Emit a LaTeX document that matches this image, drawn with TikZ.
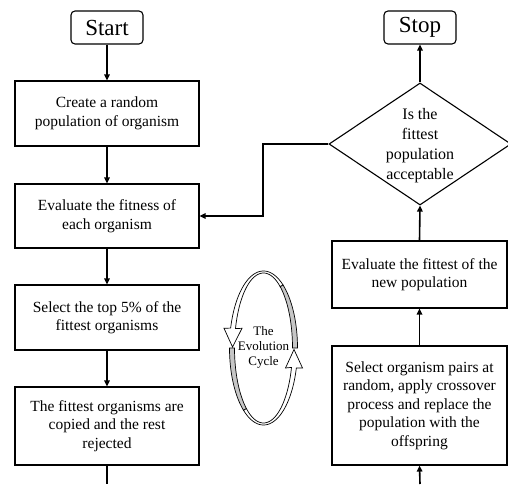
\documentclass[tikz,border=0pt]{standalone}
\usepackage{fontspec}
\setmainfont{Liberation Serif}
\usetikzlibrary{arrows.meta,shapes.geometric}
\begin{document}
\begin{tikzpicture}[x=1pt,y=-1pt,
  proc/.style={draw,line width=1.1pt,align=center,inner sep=0pt,
    font=\fontsize{15.5}{18.5}\selectfont},
  term/.style={draw,line width=1.1pt,rounded corners=4pt,align=center,inner sep=0pt,
    minimum width=72pt,minimum height=33pt,font=\fontsize{23}{26}\selectfont},
  arr/.style={line width=1.6pt,-{Triangle[length=6pt,width=5.5pt]}},
  ln/.style={line width=1.6pt},
  band/.style={line width=0.7pt}]
\useasboundingbox (0,0) rectangle (508,484);
% left column
\node[term] (start) at (107,27.5) {Start};
\node[proc,minimum width=184pt,minimum height=65pt] (create) at (107,113.5) {Create a random\\population of organism};
\node[proc,minimum width=184pt,minimum height=64pt] (eval) at (107,216) {Evaluate the fitness of\\each organism};
\node[proc,minimum width=184pt,minimum height=65pt] (sel) at (107,317.5) {Select the top 5\% of the\\fittest organisms};
\node[proc,minimum width=184pt,minimum height=78pt] (fit) at (107,426) {The fittest organisms are\\copied and the rest\\rejected};
\coordinate (lbot) at (107,484);
% right column
\node[term] (stop) at (420,27.5) {Stop};
\node[diamond,draw,line width=1.1pt,minimum width=182pt,minimum height=122pt,inner sep=0pt] (dec) at (420,144) {};
\node[align=center,inner sep=0pt,font=\fontsize{16}{20}\selectfont] (dectext) at (420,146) {Is the\\fittest\\population\\acceptable};
\node[proc,minimum width=175pt,minimum height=67pt] (evfit) at (419.5,274.5) {Evaluate the fittest of the\\new population};
\node[proc,minimum width=175pt,minimum height=119pt] (pairs) at (419.5,405.5) {Select organism pairs at\\random, apply crossover\\process and replace the\\population with the\\offspring};
\coordinate (rbot) at (420,484);
\coordinate (bend) at (263,144);
% connectors
\draw[arr] (start) -- (create);
\draw[arr] (create) -- (eval);
\draw[arr] (eval) -- (sel);
\draw[arr] (sel) -- (fit);
\draw[ln] (fit.south) -- (lbot);
\draw[arr] (rbot) -- (pairs.south);
\draw[arr] (pairs) -- (evfit);
\draw[arr] (evfit.north) -- (dec.south);
\draw[arr] (dec.north) -- (stop.south);
\draw[arr] (dec.west) -- (bend) |- (eval.east);
% evolution cycle
\filldraw[band,fill=gray!45]
  plot[domain=0:55,samples=30] ({263.5+34*cos(\x)},{348-77*sin(\x)})
  -- plot[domain=55:0,samples=30] ({263.5+29*cos(\x)},{348-75*sin(\x)}) -- cycle;
\filldraw[band,fill=white]
  plot[domain=55:165,samples=50] ({263.5+34*cos(\x)},{348-77*sin(\x)})
  -- (224,328.3) -- (232.5,347) -- (242,328.3)
  -- plot[domain=165:55,samples=50] ({263.5+29*cos(\x)},{348-75*sin(\x)}) -- cycle;
\filldraw[band,fill=gray!45]
  plot[domain=180:234,samples=30] ({263.5+34*cos(\x)},{348-77*sin(\x)})
  -- plot[domain=234:180,samples=30] ({263.5+29*cos(\x)},{348-75*sin(\x)}) -- cycle;
\filldraw[band,fill=white]
  plot[domain=234:345,samples=50] ({263.5+34*cos(\x)},{348-77*sin(\x)})
  -- (302.5,368) -- (294,349.5) -- (285.5,368)
  -- plot[domain=345:234,samples=50] ({263.5+29*cos(\x)},{348-75*sin(\x)}) -- cycle;
\node[align=center,inner sep=0pt,font=\fontsize{13}{15}\selectfont] (cyc) at (263.5,347) {The\\Evolution\\Cycle};
\end{tikzpicture}
\end{document}
